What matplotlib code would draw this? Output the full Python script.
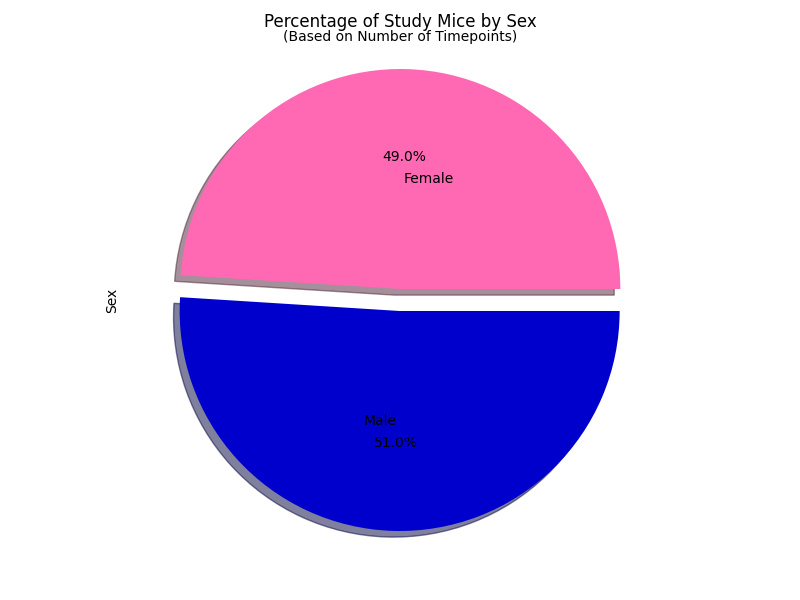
import matplotlib
matplotlib.use("Agg")
import matplotlib.pyplot as plt

# data
sexes = ["Female", "Male"]
counts = [49.0, 51.0]
colors = ["hotpink", "mediumblue"]
explode = (0.05, 0.05)

fig = plt.figure(figsize=(8, 6), dpi=100)
ax = fig.add_axes([125 / 800, 25 / 600, 550 / 800, 550 / 600])
ax.pie(counts, labels=sexes, colors=colors, explode=explode, autopct="%1.1f%%",
       shadow=True, labeldistance=0.5, pctdistance=0.6)
ax.set_xlim(-1.25, 1.25)
ax.set_ylim(-1.25, 1.25)
ax.set_aspect("equal")
ax.set_ylabel("Sex")
fig.text(0.5, 1 - 22 / 600, "Percentage of Study Mice by Sex", ha="center", va="center", fontsize=12)
fig.text(0.5, 1 - 37 / 600, "(Based on Number of Timepoints)", ha="center", va="center", fontsize=10)
fig.savefig("out.png")
